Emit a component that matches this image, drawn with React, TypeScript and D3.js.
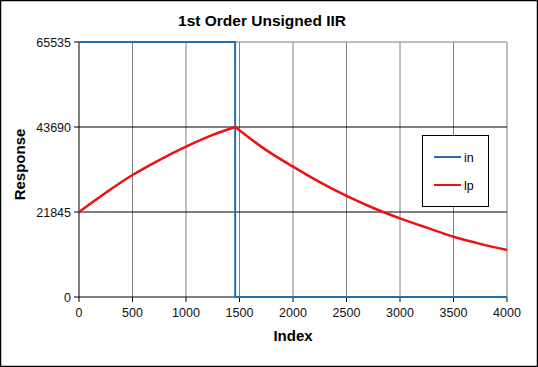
import React from 'react';
import * as d3 from 'd3';

// values
const inIndex = [0, 1459, 1460, 4000];
const inValues = [65535, 65535, 0, 0];

const lpIndex = [0, 250, 500, 750, 1000, 1250, 1460, 1750, 2000, 2250, 2500, 2750, 3000, 3250, 3500, 3750, 4000];
const lpValues = [21845, 26800, 31350, 35200, 38630, 41650, 43690, 37740, 33490, 29500, 25960, 22880, 20220, 17820, 15500, 13660, 12080];

const xTicks = [0, 500, 1000, 1500, 2000, 2500, 3000, 3500, 4000];
const yTicks = [0, 21845, 43690, 65535];

const W = 538;
const H = 367;
const margin = { top: 42, right: 31, bottom: 70, left: 79 };
const font = '"Liberation Sans", Arial, sans-serif';

type Pt = { x: number; y: number };

export default function App() {
  const x = d3.scaleLinear().domain([0, 4000]).range([margin.left, W - margin.right]);
  const y = d3.scaleLinear().domain([0, 65535]).range([H - margin.bottom, margin.top]);

  const inData: Pt[] = inIndex.map((d, i) => ({ x: d, y: inValues[i] }));
  const lpData: Pt[] = lpIndex.map((d, i) => ({ x: d, y: lpValues[i] }));

  const line = d3.line<Pt>().x(d => x(d.x)).y(d => y(d.y));
  const lpLeft = lpData.filter(d => d.x <= 1460);
  const lpRight = lpData.filter(d => d.x >= 1460);
  const smooth = d3.line<Pt>().x(d => x(d.x)).y(d => y(d.y)).curve(d3.curveMonotoneX);

  const x0 = x(0), x1 = x(4000), yb = y(0), yt = y(65535);

  return (
    <svg width={W} height={H} style={{ position: 'absolute', left: 0, top: 0, background: '#fff' }}>
      <rect x={0.5} y={0.5} width={W - 1} height={H - 1} fill="#fff" stroke="#000" strokeWidth={1.5} />

      <text x={W / 2 - 7} y={26} textAnchor="middle" fontFamily={font} fontWeight="bold" fontSize={15.5}>
        1st Order Unsigned IIR
      </text>

      {/* vertical grid */}
      {xTicks.slice(1).map(t => (
        <line key={'vx' + t} x1={x(t)} x2={x(t)} y1={yt} y2={yb} stroke="#808080" strokeWidth={1} />
      ))}
      {/* top border */}
      <line x1={x0} x2={x1} y1={yt} y2={yt} stroke="#808080" strokeWidth={1} />
      {/* horizontal grid */}
      {yTicks.slice(1, 3).map(t => (
        <line key={'hy' + t} x1={x0} x2={x1} y1={y(t)} y2={y(t)} stroke="#000" strokeWidth={1} />
      ))}

      {/* axes */}
      <line x1={x0} x2={x0} y1={yt} y2={yb} stroke="#000" strokeWidth={1} />
      <line x1={x0} x2={x1} y1={yb} y2={yb} stroke="#000" strokeWidth={1} />
      {yTicks.map(t => (
        <g key={'yt' + t}>
          <line x1={x0 - 5} x2={x0} y1={y(t)} y2={y(t)} stroke="#000" />
          <text x={x0 - 8} y={y(t) + 4.5} textAnchor="end" fontFamily={font} fontSize={12.5} fill="#111">
            {t}
          </text>
        </g>
      ))}
      {xTicks.map(t => (
        <g key={'xt' + t}>
          <line x1={x(t)} x2={x(t)} y1={yb} y2={yb + 5} stroke="#000" />
          <text x={x(t)} y={yb + 20} textAnchor="middle" fontFamily={font} fontSize={12.5} fill="#111">
            {t}
          </text>
        </g>
      ))}

      <text x={(x0 + x1) / 2} y={yb + 44} textAnchor="middle" fontFamily={font} fontWeight="bold" fontSize={15}>
        Index
      </text>
      <text
        transform={`translate(25, ${(yt + yb) / 2 - 5}) rotate(-90)`}
        textAnchor="middle"
        fontFamily={font}
        fontWeight="bold"
        fontSize={15}
      >
        Response
      </text>

      {/* series */}
      <path d={line(inData) || ''} fill="none" stroke="#1f6fb2" strokeWidth={2} />
      <path d={smooth(lpLeft) || ''} fill="none" stroke="#ee1111" strokeWidth={2.5} strokeLinejoin="round" />
      <path d={smooth(lpRight) || ''} fill="none" stroke="#ee1111" strokeWidth={2.5} strokeLinejoin="round" />

      {/* legend */}
      <rect x={422.5} y={135.5} width={66} height={71} fill="#fff" stroke="#000" strokeWidth={1} />
      <line x1={434} x2={461} y1={157} y2={157} stroke="#1f6fb2" strokeWidth={2} />
      <text x={464} y={161.5} fontFamily={font} fontSize={12.5}>in</text>
      <line x1={434} x2={461} y1={185} y2={185} stroke="#ee1111" strokeWidth={2} />
      <text x={464} y={189.5} fontFamily={font} fontSize={12.5}>lp</text>
    </svg>
  );
}
